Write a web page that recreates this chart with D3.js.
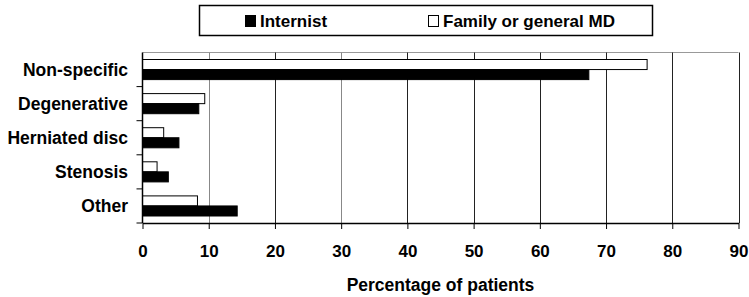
<!DOCTYPE html>
<html>
<head>
<meta charset="utf-8">
<script src="https://cdn.jsdelivr.net/npm/d3@7"></script>
<style>
  body { margin: 0; background: #fff; }
  text { font-family: "Liberation Sans", Arial, sans-serif; font-weight: bold; }
</style>
</head>
<body>
<div id="chart"></div>
<script>
const categories = ["Non-specific", "Degenerative", "Herniated disc", "Stenosis", "Other"];
const seriesNames = ["Family or general MD", "Internist"];
const familyMD = [76.2, 9.4, 3.2, 2.2, 8.3];
const internist = [67.4, 8.5, 5.5, 3.9, 14.3];
const xTicks = [0, 10, 20, 30, 40, 50, 60, 70, 80, 90];

const width = 749, height = 297;
const margin = {top: 52.5, right: 10.5, bottom: 74, left: 142.5};

const svg = d3.select("#chart")
  .append("svg")
    .attr("width", width)
    .attr("height", height);

const x = d3.scaleLinear()
  .domain([0, 90])
  .range([margin.left, width - margin.right]);

const y = d3.scaleBand()
  .domain(categories)
  .range([margin.top, height - margin.bottom]);

const inner = d3.scaleBand()
  .domain(seriesNames)
  .range([7, y.bandwidth() - 7]);

const rows = categories.map(function(c, i) {
  return {cat: c, values: [
    {name: "Family or general MD", value: familyMD[i]},
    {name: "Internist", value: internist[i]}
  ]};
});

// top border
svg.append("line")
  .attr("x1", x(0)).attr("x2", x(90))
  .attr("y1", margin.top).attr("y2", margin.top)
  .attr("stroke", "#999").attr("stroke-width", 1);

// vertical gridlines
svg.append("g")
  .selectAll("line")
  .data(xTicks.slice(1))
  .enter()
  .append("line")
    .attr("x1", function(d) { return Math.round(x(d)) + 0.5; })
    .attr("x2", function(d) { return Math.round(x(d)) + 0.5; })
    .attr("y1", margin.top)
    .attr("y2", height - margin.bottom)
    .attr("stroke", function(d) { return (d === 10 || d === 30) ? "#888" : "#222"; })
    .attr("stroke-width", 1);

// bars
const groups = svg.append("g")
  .selectAll("g")
  .data(rows)
  .enter()
  .append("g")
    .attr("transform", function(d) { return "translate(0," + y(d.cat) + ")"; });

groups.selectAll("rect")
  .data(function(d) { return d.values; })
  .enter()
  .append("rect")
    .attr("x", x(0))
    .attr("y", function(d) { return inner(d.name); })
    .attr("width", function(d) { return x(d.value) - x(0); })
    .attr("height", inner.bandwidth())
    .attr("fill", function(d) { return d.name === "Internist" ? "#000" : "#fff"; })
    .attr("stroke", "#000")
    .attr("stroke-width", 1);

// x axis
const xAxis = svg.append("g")
  .attr("transform", "translate(0," + (height - margin.bottom) + ")")
  .call(d3.axisBottom(x).tickValues(xTicks).tickSize(6).tickPadding(16).tickSizeOuter(0));
xAxis.select(".domain").attr("stroke", "#000").attr("stroke-width", 1.5);
xAxis.selectAll(".tick line").attr("stroke", "#000");
xAxis.selectAll(".tick text")
  .style("font-size", "17px")
  .style("font-family", "'Liberation Sans', Arial, sans-serif")
  .style("font-weight", "bold")
  .attr("fill", "#000");

// y axis
const yTickPos = categories.map(function(c) { return y(c); }).concat([height - margin.bottom]);
svg.append("line")
  .attr("x1", x(0)).attr("x2", x(0))
  .attr("y1", margin.top).attr("y2", height - margin.bottom)
  .attr("stroke", "#000").attr("stroke-width", 1.5);
svg.append("g")
  .selectAll("line")
  .data(yTickPos.slice(1))
  .enter()
  .append("line")
    .attr("x1", x(0) - 6).attr("x2", x(0))
    .attr("y1", function(d) { return d; })
    .attr("y2", function(d) { return d; })
    .attr("stroke", "#000");

svg.append("g")
  .selectAll("text")
  .data(categories)
  .enter()
  .append("text")
    .attr("x", 128)
    .attr("y", function(d) { return y(d) + y.bandwidth() / 2; })
    .attr("dy", "0.35em")
    .attr("text-anchor", "end")
    .style("font-size", "17.5px")
    .text(function(d) { return d; });

// axis title
svg.append("text")
  .attr("x", (x(0) + x(90)) / 2)
  .attr("y", 291)
  .attr("text-anchor", "middle")
  .style("font-size", "17.5px")
  .text("Percentage of patients");

// legend
const legend = svg.append("g");
legend.append("rect")
  .attr("x", 199.5).attr("y", 5.5)
  .attr("width", 453).attr("height", 30)
  .attr("fill", "#fff")
  .attr("stroke", "#000")
  .attr("stroke-width", 1.5);

const legendItems = [
  {name: "Internist", fill: "#000", x: 245},
  {name: "Family or general MD", fill: "#fff", x: 428}
];
legendItems.forEach(function(d) {
  legend.append("rect")
    .attr("x", d.x + 0.5).attr("y", 15.5)
    .attr("width", 10).attr("height", 11)
    .attr("fill", d.fill)
    .attr("stroke", "#000");
  legend.append("text")
    .attr("x", d.x + 15)
    .attr("y", 27)
    .style("font-size", "17px")
    .text(d.name);
});
</script>
</body>
</html>
